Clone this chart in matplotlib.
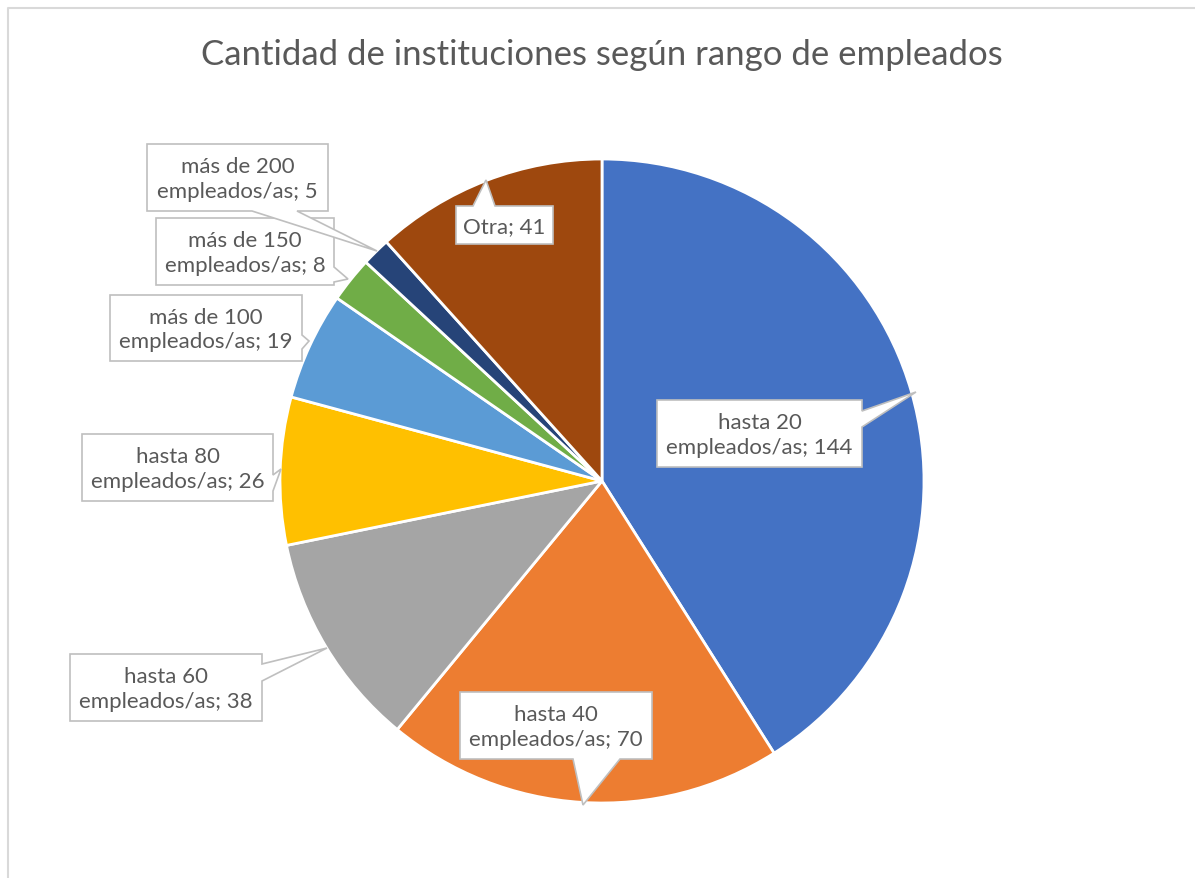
import matplotlib.pyplot as plt
from matplotlib.patches import Polygon

# data
categories = ['hasta 20 empleados/as', 'hasta 40 empleados/as', 'hasta 60 empleados/as',
              'hasta 80 empleados/as', 'más de 100 empleados/as', 'más de 150 empleados/as',
              'más de 200 empleados/as', 'Otra']
values = [144, 70, 38, 26, 19, 8, 5, 41]
colors = ['#4472C4', '#ED7D31', '#A5A5A5', '#FFC000', '#5B9BD5', '#70AD47', '#264478', '#9E480E']
title = 'Cantidad de instituciones según rango de empleados'

# callout boxes in pixel coords: (x0, y0, x1, y1), tail side, tail base, tail tip
callouts = [
    ((657, 401, 862, 468), 'right', (412, 428), (916, 393)),
    ((460, 693, 652, 760), 'bottom', (573, 620), (583, 806)),
    ((70, 655, 262, 722), 'right', (665, 682), (327, 649)),
    ((82, 435, 273, 502), 'right', (476, 492), (281, 470)),
    ((110, 296, 302, 362), 'right', (336, 350), (309, 342)),
    ((156, 219, 334, 286), 'right', (268, 283), (348, 280)),
    ((147, 145, 328, 212), 'bottom', (252, 297), (377, 252)),
    ((456, 207, 553, 245), 'top', (473, 495), (486, 181)),
]

plt.rcParams['font.family'] = ['Lato', 'DejaVu Sans']
text_color = '#595959'

fig = plt.figure(figsize=(11.95, 8.79), dpi=100)
ax = fig.add_axes([0, 0, 1, 1])

ax.pie(values, colors=colors, center=(602, 482), radius=322, startangle=270,
       counterclock=True, wedgeprops=dict(edgecolor='white', linewidth=2))

for (cat, val), (box, side, base, tip) in zip(zip(categories, values), callouts):
    x0, y0, x1, y1 = box
    b0, b1 = base
    tx, ty = tip
    if side == 'right':
        pts = [(x0, y0), (x1, y0), (x1, b0), (tx, ty), (x1, b1), (x1, y1), (x0, y1)]
    elif side == 'bottom':
        pts = [(x0, y0), (x1, y0), (x1, y1), (b1, y1), (tx, ty), (b0, y1), (x0, y1)]
    else:
        pts = [(x0, y0), (b0, y0), (tx, ty), (b1, y0), (x1, y0), (x1, y1), (x0, y1)]
    ax.add_patch(Polygon(pts, closed=True, facecolor='white', edgecolor='#BFBFBF',
                         linewidth=1.2, zorder=5))
    label = f'{cat}; {val}'.replace(' empleados', '\nempleados')
    ax.text((x0 + x1) / 2, (y0 + y1) / 2 + 1, label, ha='center', va='center',
            fontsize=16, color=text_color, linespacing=1.3, zorder=6)

ax.text(602, 55, title, ha='center', va='center', fontsize=25, color=text_color)

# chart border
ax.plot([8, 8, 1195], [879, 9, 9], color='#D9D9D9', linewidth=1.5, clip_on=False)

ax.set_xlim(0, 1195)
ax.set_ylim(879, 0)
ax.set_aspect('equal')
ax.axis('off')

fig.savefig('out.png', dpi=100)
